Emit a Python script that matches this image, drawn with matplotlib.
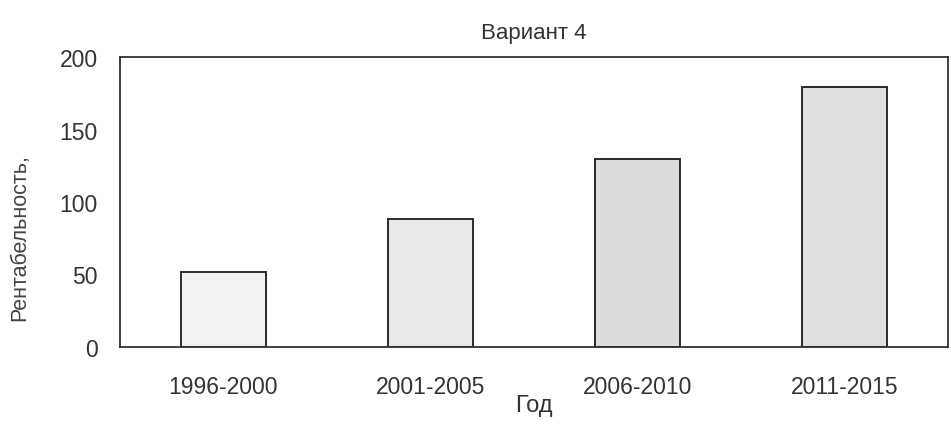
import matplotlib
matplotlib.use("Agg")
import matplotlib.pyplot as plt

# Вариант 4: рентабельность по пятилеткам
periods = ["1996-2000", "2001-2005", "2006-2010", "2011-2015"]
profit = [52, 88, 130, 179]
fills = ["#f1f1f1", "#e9e9e9", "#dcdcdc", "#e0e0e0"]

plt.rcParams.update({"font.family": ["Liberation Sans", "DejaVu Sans"]})
fig = plt.figure(figsize=(9.51, 4.27), dpi=100)
ax = fig.add_axes([120 / 951, 1 - 348 / 427, 828 / 951, 290 / 427])

x = range(len(periods))
ax.bar(x, profit, width=0.41, color=fills, edgecolor="#2a2a2a", linewidth=1.4, zorder=3)

ax.set_xlim(-0.5, 3.5)
ax.set_ylim(0, 200)
ax.set_yticks([0, 50, 100, 150, 200])
ax.set_xticks(list(x))
ax.set_xticklabels(periods)
ax.tick_params(length=0, labelsize=16.5, colors="#333333")
ax.tick_params(axis="x", pad=20)
ax.tick_params(axis="y", pad=16)
for s in ax.spines.values():
    s.set_color("#333333")
    s.set_linewidth(1.3)

ax.set_xlabel("Год", fontsize=17, color="#333333", labelpad=-3)
ax.set_ylabel("Рентабельность,", fontsize=15.5, color="#444444")
ax.yaxis.set_label_coords(-0.108, 0.38)
ax.set_title("Вариант 4", fontsize=16, color="#333333", pad=14)

fig.savefig("out.png", dpi=100, facecolor="white")
